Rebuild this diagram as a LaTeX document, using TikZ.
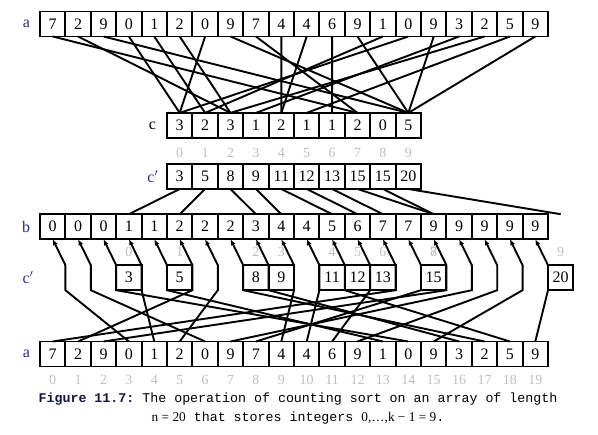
\documentclass[tikz,border=0pt]{standalone}
\usepackage{fontspec}
\setmainfont{Liberation Serif}
\setmonofont{Liberation Mono}
\usepackage{xcolor}
\usetikzlibrary{positioning, arrows.meta}
\definecolor{lblblue}{RGB}{40,40,160}
\definecolor{idxgray}{RGB}{190,190,190}
\definecolor{capblue}{RGB}{20,20,70}

\begin{document}
\begin{tikzpicture}[x=1pt, y=-1pt, line width=1.9pt,
	cell/.style={draw, minimum width=25.4pt, minimum height=25pt, inner sep=0pt, outer sep=0pt, font=\fontsize{16}{16}\selectfont},
	idx/.style={text=idxgray, inner sep=0pt, font=\fontsize{14}{14}\selectfont},
	lbl/.style={text=lblblue, inner sep=0pt, font=\fontsize{16}{16}\selectfont},
	ptr/.style={-{Latex[length=6pt, width=5pt]}}]
	\useasboundingbox (0,0) rectangle (598,435);
	% input array a
	\foreach \v [count=\i from 0] in {7,2,9,0,1,2,0,9,7,4,4,6,9,1,0,9,3,2,5,9}
		\node[cell] (a\i) at (52.7+25.4*\i, 24) {\v};
	\node[lbl, left=9pt of a0] (la) {a};
	% counts c
	\foreach \v [count=\i from 0] in {3,2,3,1,2,1,1,2,0,5} {
		\node[cell] (c\i) at (179.7+25.4*\i, 125.4) {\v};
		\node[idx, below=9pt of c\i] (ci\i) {\i};
	}
	\node[lbl, text=black, left=10pt of c0] (lc) {c};
	% prefix sums c'
	\foreach \v [count=\i from 0] in {3,5,8,9,11,12,13,15,15,20}
		\node[cell] (cp\i) at (179.7+25.4*\i, 176.5) {\v};
	\node[lbl, left=8pt of cp0] (lcp) {c$'$};
	% output array b
	\foreach \v [count=\i from 0] in {0,0,0,1,1,2,2,2,3,4,4,5,6,7,7,9,9,9,9,9}
		\node[cell] (b\i) at (52.7+25.4*\i, 226.7) {\v};
	\node[cell, draw=none] (b20) at (52.7+25.4*20, 226.7) {};
	\node[lbl, left=9pt of b0] (lb) {b};
	% c' under b
	\foreach \p in {3,5,8,9,11,12,13,15,20}
		\node[cell] (q\p) at (52.7+25.4*\p, 277.7) {\p};
	\foreach \p [count=\j from 0] in {3,5,8,9,11,12,13,15,15,20}
		\node[idx, above=8pt of q\p] (qi\j) {\j};
	\node[lbl] (lq) at (28, 277.7) {c$'$};
	% input array a again
	\foreach \v [count=\i from 0] in {7,2,9,0,1,2,0,9,7,4,4,6,9,1,0,9,3,2,5,9} {
		\node[cell] (A\i) at (52.7+25.4*\i, 354) {\v};
		\node[idx, below=8pt of A\i] (Ai\i) {\i};
	}
	\node[lbl, left=9pt of A0] (lA) {a};
	% connectors
	\foreach \v [count=\i from 0] in {7,2,9,0,1,2,0,9,7,4,4,6,9,1,0,9,3,2,5,9}
		\draw (a\i.south) -- (c\v.north);
	\foreach \v [count=\i from 0] in {3,5,8,9,11,12,13,15,15,20}
		\draw (cp\i.south) -- (b\v.north);
	\foreach \s [count=\j from 0] in {3,6,14,4,13,1,5,17,16,9,10,18,11,0,8,2,7,12,15,19}
		\draw[ptr] (A\s.north) -- (b\j.east |- q3.south) -- (b\j.east |- q3.north) -- (b\j.south);
	% caption
	\node[font=\ttfamily\fontsize{13.3}{19}\selectfont, align=center, inner sep=0pt] (cap) at (298,408.5)
		{\textbf{\color{capblue}Figure 11.7:} The operation of counting sort on an array of length\\
		{\rmfamily n = 20} that stores integers {\rmfamily 0,\ldots,k − 1 = 9}.};
\end{tikzpicture}
\end{document}
